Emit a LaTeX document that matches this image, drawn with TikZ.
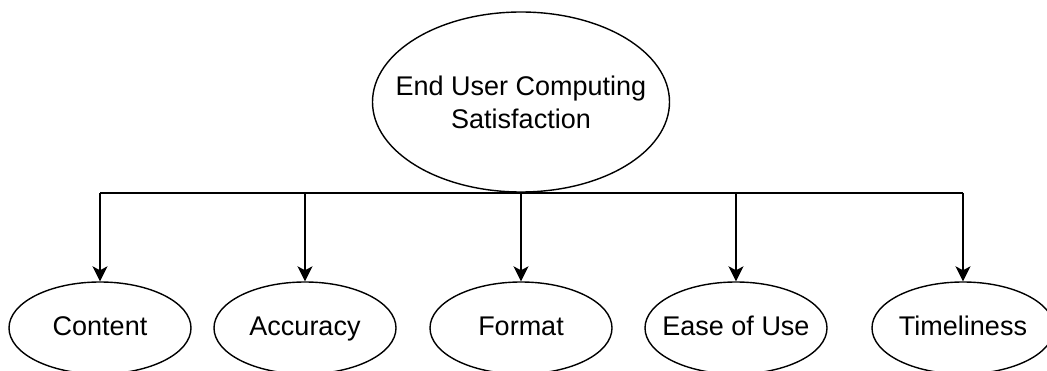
\documentclass[tikz,border=0pt]{standalone}
\usepackage{fontspec}
\setmainfont{Liberation Sans}
\usetikzlibrary{shapes.geometric,arrows.meta}
\begin{document}
\begin{tikzpicture}[x=1pt,y=-1pt,
  every node/.style={font=\fontsize{27}{33}\selectfont},
  topoval/.style={ellipse,draw,line width=1.4pt,minimum width=297pt,minimum height=180pt,inner xsep=-24pt,inner ysep=0pt,align=center},
  leafoval/.style={ellipse,draw,line width=1.4pt,minimum width=182pt,minimum height=92pt,inner xsep=-14pt,inner ysep=0pt,text height=20pt,text depth=6pt},
  link/.style={line width=1.4pt,-{Stealth[length=15pt,width=15pt,inset=4pt]}}]
  \useasboundingbox (0,0) rectangle (1047,371);
  \clip (0,0) rectangle (1047,371);
  \node[topoval] (euc) at (521,102) {End User Computing\\Satisfaction};
  \node[leafoval] (content) at (100,328) {Content};
  \node[leafoval] (accuracy) at (305,328) {Accuracy};
  \node[leafoval] (format) at (521,328) {Format};
  \node[leafoval] (ease) at (736,328) {Ease of Use};
  \node[leafoval] (time) at (963,328) {Timeliness};
  % bus line under the root
  \coordinate (busL) at (100,193);
  \coordinate (busR) at (963,193);
  \draw[line width=1.4pt] (busL) -- (busR);
  \draw[line width=1.4pt] (euc.south) -- (euc.south |- busL);
  \foreach \n in {content,accuracy,format,ease,time}
    \draw[link] (\n.north |- busL) -- (\n.north);
\end{tikzpicture}
\end{document}
